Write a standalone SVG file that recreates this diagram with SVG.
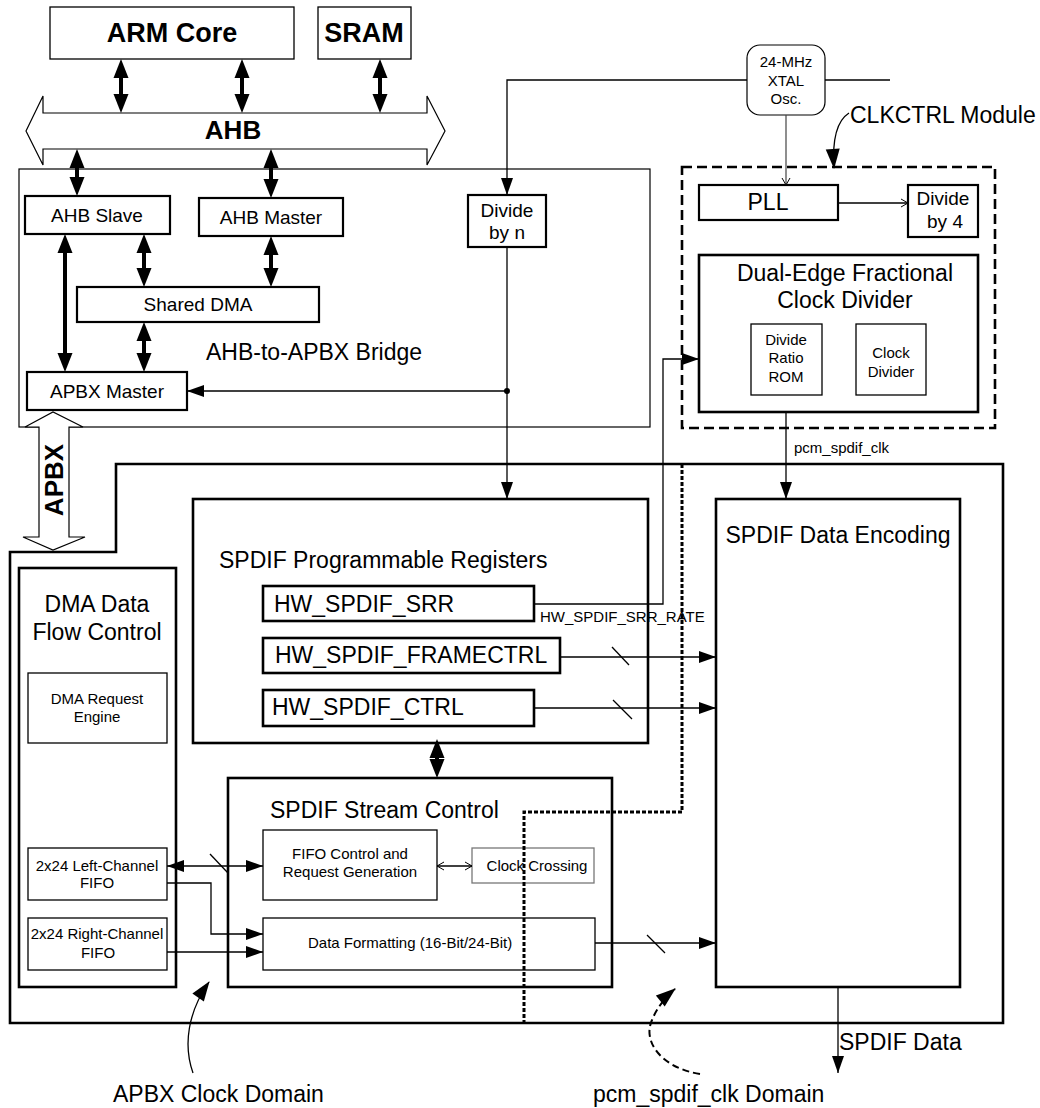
<svg xmlns="http://www.w3.org/2000/svg" width="1040" height="1108" viewBox="0 0 1040 1108">
<style>
.t{font-family:"Liberation Sans",Arial,Helvetica,sans-serif;fill:#000}
.s15{font-size:15px}
.s19{font-size:19px}
.s23{font-size:23px}
.c{text-anchor:middle}
.bd{font-weight:bold}
.b1{fill:#fff;stroke:#000;stroke-width:1.3}
.b2{fill:#fff;stroke:#000;stroke-width:2.2}
.b3{fill:#fff;stroke:#000;stroke-width:2.6}
.bus{fill:none;stroke:#000;stroke-width:4}
.w{fill:none;stroke:#000;stroke-width:1.3}
</style>
<defs>
<marker id="big" markerUnits="userSpaceOnUse" markerWidth="20" markerHeight="16" refX="8" refY="7.5" orient="auto-start-reverse" overflow="visible"><path d="M0,0 L19,7.5 L0,15 z" fill="#000"/></marker>
<marker id="tri" markerUnits="userSpaceOnUse" markerWidth="18" markerHeight="13" refX="17" refY="6" orient="auto-start-reverse" overflow="visible"><path d="M0,0 L17,6 L0,12 z" fill="#000"/></marker>
<marker id="ann" markerUnits="userSpaceOnUse" markerWidth="22" markerHeight="16" refX="19" refY="7" orient="auto" overflow="visible"><path d="M0,0 L20,7 L0,14 z" fill="#000"/></marker>
<marker id="open" markerUnits="userSpaceOnUse" markerWidth="10" markerHeight="10" refX="8" refY="4.5" orient="auto-start-reverse" overflow="visible"><path d="M1,0.5 L8,4.5 L1,8.5" fill="none" stroke="#000" stroke-width="1"/></marker>
</defs>

<g id="apbx-domain">
<polygon points="10,552 116,552 116,464 1003,464 1003,1023 10,1023" fill="none" stroke="#000" stroke-width="2.6"/>
</g>
<g id="bridge">
<rect x="19" y="169" width="631" height="258" fill="#fff" stroke="#000" stroke-width="1.2"/>
<text class="t s23" x="206" y="360">AHB-to-APBX Bridge</text>
</g>
<g id="clkctrl">
<rect x="682" y="167" width="313" height="261" fill="none" stroke="#000" stroke-width="2.6" stroke-dasharray="10 5"/>
<text class="t s23" x="850" y="123">CLKCTRL Module</text>
</g>

<g id="arm-core"><rect class="b1" x="50" y="7" width="244" height="52"/><text class="t bd c" style="font-size:27px" x="172" y="42">ARM Core</text></g>
<g id="sram"><rect class="b1" x="318" y="7" width="93" height="52"/><text class="t bd c" style="font-size:27px" x="364" y="42">SRAM</text></g>
<g id="ahb-bus">
<polygon points="26,131 43,96 43,113 427,113 427,96 445,131 427,165 427,149 43,149 43,165" fill="#fff" stroke="#000" stroke-width="1.2"/>
<text class="t bd c" style="font-size:26px" x="233" y="139">AHB</text>
</g>
<g id="xtal"><rect x="747" y="45" width="78" height="70" rx="13" fill="#fff" stroke="#000" stroke-width="1.2"/>
<text class="t s15 c" x="786" y="67">24-MHz</text><text class="t s15 c" x="786" y="86">XTAL</text><text class="t s15 c" x="786" y="104">Osc.</text></g>

<g id="ahb-slave"><rect class="b2" x="25" y="196" width="145" height="38"/><text class="t s19 c" x="97" y="222">AHB Slave</text></g>
<g id="ahb-master"><rect class="b2" x="199" y="198" width="144" height="38"/><text class="t s19 c" x="271" y="224">AHB Master</text></g>
<g id="shared-dma"><rect class="b2" x="77" y="287" width="242" height="35"/><text class="t s19 c" x="198" y="311">Shared DMA</text></g>
<g id="apbx-master"><rect class="b2" x="27" y="372" width="160" height="38"/><text class="t s19 c" x="107" y="398">APBX Master</text></g>
<g id="divide-n"><rect class="b2" x="468" y="195" width="78" height="52"/><text class="t s19 c" x="507" y="217">Divide</text><text class="t s19 c" x="507" y="239">by n</text></g>

<g id="pll"><rect class="b2" x="699" y="185" width="139" height="35"/><text class="t s23 c" x="768" y="210">PLL</text></g>
<g id="divide-4"><rect class="b2" x="908" y="185" width="70" height="52"/><text class="t s19 c" x="943" y="205">Divide</text><text class="t s19 c" x="945" y="228">by 4</text></g>
<g id="dual-edge"><rect class="b3" x="699" y="255" width="279" height="157"/>
<text class="t s23 c" x="845" y="281">Dual-Edge Fractional</text><text class="t s23 c" x="845" y="308">Clock Divider</text></g>
<g id="ratio-rom"><rect class="b1" x="751" y="324" width="71" height="71"/><text class="t s15 c" x="786" y="345">Divide</text><text class="t s15 c" x="786" y="363">Ratio</text><text class="t s15 c" x="786" y="382">ROM</text></g>
<g id="clock-divider"><rect class="b1" x="856" y="324" width="70" height="71"/><text class="t s15 c" x="891" y="358">Clock</text><text class="t s15 c" x="891" y="377">Divider</text></g>

<g id="apbx-bus">
<polygon points="39,427 25,427 53,412 83,427 69,427 69,537 85,537 53,550 23,537 39,537" fill="#fff" stroke="#000" stroke-width="1.2"/>
<text class="t bd c" style="font-size:26px" transform="translate(63,480) rotate(-90)">APBX</text>
</g>

<g id="dma-flow"><rect class="b3" x="19" y="568" width="157" height="419"/>
<text class="t s23 c" x="97" y="612">DMA Data</text><text class="t s23 c" x="97" y="640">Flow Control</text></g>
<g id="dma-request"><rect class="b1" x="28" y="673" width="139" height="70"/><text class="t s15 c" x="97" y="704">DMA Request</text><text class="t s15 c" x="97" y="722">Engine</text></g>
<g id="left-fifo"><rect class="b1" x="28" y="848" width="139" height="52"/><text class="t s15 c" x="97" y="871">2x24 Left-Channel</text><text class="t s15 c" x="97" y="888">FIFO</text></g>
<g id="right-fifo"><rect class="b1" x="28" y="918" width="139" height="52"/><text class="t s15 c" x="97" y="939">2x24 Right-Channel</text><text class="t s15 c" x="98" y="958">FIFO</text></g>

<g id="registers"><rect class="b3" x="193" y="499" width="455" height="244"/>
<text class="t s23" x="219" y="568">SPDIF Programmable Registers</text></g>
<g id="srr"><rect class="b3" x="263" y="586" width="271" height="35"/><text class="t s23" x="274" y="612">HW_SPDIF_SRR</text></g>
<g id="framectrl"><rect class="b3" x="263" y="638" width="297" height="35"/><text class="t s23" x="275" y="663">HW_SPDIF_FRAMECTRL</text></g>
<g id="ctrl"><rect class="b3" x="263" y="690" width="271" height="36"/><text class="t s23" x="272" y="715">HW_SPDIF_CTRL</text></g>

<g id="stream-control"><rect class="b3" x="228" y="778" width="384" height="209"/>
<text class="t s23" x="270" y="818">SPDIF Stream Control</text></g>
<g id="fifo-control"><rect class="b1" x="263" y="830" width="174" height="70"/><text class="t s15 c" x="350" y="859">FIFO Control and</text><text class="t s15 c" x="350" y="877">Request Generation</text></g>
<g id="clock-crossing"><rect x="472" y="848" width="122" height="35" fill="#fff" stroke="#777" stroke-width="1.3"/><text class="t s15 c" x="537" y="871">Clock Crossing</text></g>
<g id="data-formatting"><rect class="b1" x="263" y="918" width="332" height="52"/><text class="t s15" x="308" y="948">Data Formatting (16-Bit/24-Bit)</text></g>

<g id="encoding"><rect class="b3" x="716" y="499" width="244" height="488"/>
<text class="t s23 c" x="838" y="543">SPDIF Data Encoding</text></g>

<g id="connectors">
<line class="bus" x1="121" y1="70" x2="121" y2="102" marker-start="url(#big)" marker-end="url(#big)"/>
<line class="bus" x1="242" y1="70" x2="242" y2="102" marker-start="url(#big)" marker-end="url(#big)"/>
<line class="bus" x1="380" y1="70" x2="380" y2="102" marker-start="url(#big)" marker-end="url(#big)"/>
<line class="bus" x1="77" y1="160" x2="77" y2="185" marker-start="url(#big)" marker-end="url(#big)"/>
<line class="bus" x1="271" y1="160" x2="271" y2="187" marker-start="url(#big)" marker-end="url(#big)"/>
<line class="bus" x1="65" y1="245" x2="65" y2="361" marker-start="url(#big)" marker-end="url(#big)"/>
<line class="bus" x1="144" y1="245" x2="144" y2="276" marker-start="url(#big)" marker-end="url(#big)"/>
<line class="bus" x1="271" y1="247" x2="271" y2="276" marker-start="url(#big)" marker-end="url(#big)"/>
<line class="bus" x1="144" y1="333" x2="144" y2="361" marker-start="url(#big)" marker-end="url(#big)"/>
<line class="bus" x1="437" y1="750" x2="437" y2="767" marker-start="url(#big)" marker-end="url(#big)"/>
<path class="w" d="M747,80 H507 V195" marker-end="url(#tri)"/>
<line class="w" x1="825" y1="80" x2="890" y2="80"/>
<line x1="786" y1="115" x2="786" y2="185" stroke="#444" stroke-width="1.2" marker-end="url(#open)"/>
<line class="w" x1="838" y1="203" x2="908" y2="203" marker-end="url(#open)"/>
<line class="w" x1="507" y1="247" x2="507" y2="499" marker-end="url(#tri)"/>
<line class="w" x1="507" y1="391" x2="187" y2="391" marker-end="url(#tri)"/>
<circle cx="507" cy="391" r="3" fill="#000"/>
<line class="w" x1="786" y1="412" x2="786" y2="499" marker-end="url(#tri)"/>
<text class="t s15" x="794" y="453">pcm_spdif_clk</text>
<path class="w" d="M534,604 H663 V359 H699" marker-end="url(#tri)"/>
<text class="t s15" x="540" y="622">HW_SPDIF_SRR_RATE</text>
<line class="w" x1="560" y1="657" x2="716" y2="657" marker-end="url(#tri)"/>
<line class="w" x1="612" y1="647" x2="629" y2="665"/>
<line class="w" x1="534" y1="708" x2="716" y2="708" marker-end="url(#tri)"/>
<line class="w" x1="613" y1="700" x2="632" y2="719"/>
<line class="w" x1="167" y1="866" x2="263" y2="866" marker-start="url(#tri)" marker-end="url(#tri)"/>
<line class="w" x1="210" y1="854" x2="228" y2="873"/>
<line class="w" x1="437" y1="866" x2="472" y2="866" marker-start="url(#open)" marker-end="url(#open)"/>
<path class="w" d="M167,883 H211 V934 H263" marker-end="url(#tri)"/>
<line class="w" x1="167" y1="952" x2="263" y2="952" marker-end="url(#tri)"/>
<line class="w" x1="595" y1="943" x2="716" y2="943" marker-end="url(#tri)"/>
<line class="w" x1="647" y1="935" x2="665" y2="953"/>
<line class="w" x1="838" y1="987" x2="838" y2="1073" marker-end="url(#tri)"/>
<text class="t s23" x="839" y="1050">SPDIF Data</text>
<path d="M682,464 V812 H524 V1023" fill="none" stroke="#000" stroke-width="3" stroke-dasharray="4 2"/>
<path d="M849,113 C838,120 832,138 834,168" fill="none" stroke="#000" stroke-width="1.3" marker-end="url(#ann)"/>
<path d="M193,1073 C183,1045 188,1012 209,982" fill="none" stroke="#000" stroke-width="1.3" marker-end="url(#ann)"/>
<path d="M700,1074 C662,1068 642,1042 652,1020 C656,1010 664,998 675,989" fill="none" stroke="#000" stroke-width="2" stroke-dasharray="7 4" marker-end="url(#ann)"/>
</g>
<text class="t s23" x="113" y="1102">APBX Clock Domain</text>
<text class="t s23" x="593" y="1102">pcm_spdif_clk Domain</text>
</svg>
